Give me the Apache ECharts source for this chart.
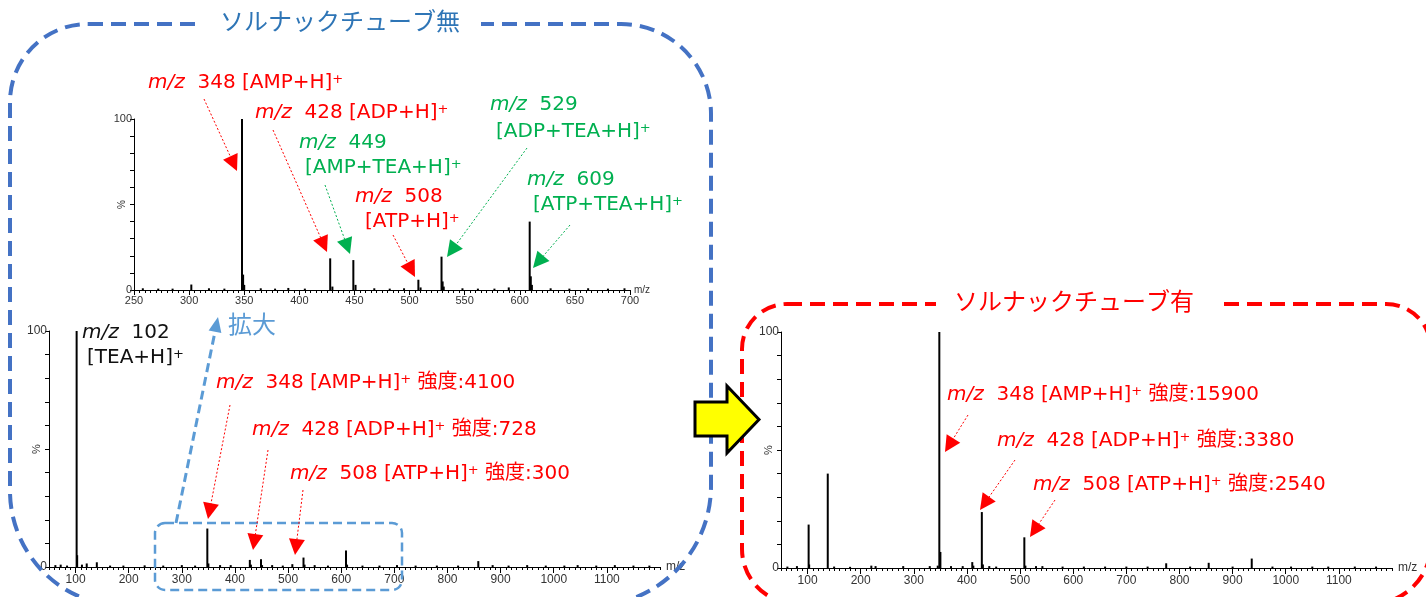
<!DOCTYPE html>
<html>
<head>
<meta charset="utf-8">
<script src="https://cdn.jsdelivr.net/npm/echarts@6/dist/echarts.min.js"></script>
<style>
html,body{margin:0;padding:0;background:#fff;}
#c{width:1426px;height:597px;}
</style>
</head>
<body>
<div id="c"></div>
<script>
// ---------- DATA ----------
// Inset (zoomed, no tube) : m/z and relative intensity (%)
const insetMz  = [258, 272, 285, 302, 318, 332, 348, 349, 350, 365, 378, 390, 405, 428, 430, 449, 451, 468, 482, 495, 508, 510, 529, 530, 531, 548, 562, 577, 590, 609, 610, 611, 628, 645, 662, 680, 695];
const insetPct = [1.0, 0.8, 0.8, 3.2, 1.0, 0.8, 100, 9.0, 3.0, 1.0, 0.8, 1.2, 0.8, 18.5, 2.0, 17.5, 3.0, 1.0, 0.8, 1.0, 6.0, 1.5, 19.5, 5.0, 2.0, 1.0, 0.8, 0.8, 1.5, 40, 8.0, 3.0, 1.0, 0.8, 1.0, 0.8, 1.0];
// Full spectrum without tube
const noTubeMz  = [62, 72, 84, 102, 103, 112, 121, 140, 165, 190, 230, 265, 300, 325, 348, 350, 372, 392, 428, 430, 449, 451, 470, 490, 508, 529, 531, 550, 575, 609, 611, 640, 672, 705, 740, 780, 820, 858, 885, 915, 950, 985, 1020, 1045, 1080, 1115, 1150, 1180];
const noTubePct = [0.8, 1.0, 0.6, 100, 5.0, 1.0, 1.5, 2.0, 0.6, 0.6, 0.7, 0.6, 0.8, 0.6, 16.3, 1.5, 0.8, 0.8, 3.0, 1.0, 3.3, 0.8, 0.8, 0.6, 1.2, 4.0, 1.0, 0.8, 0.6, 7.0, 1.0, 0.6, 0.6, 0.8, 0.6, 0.6, 0.6, 2.5, 0.8, 0.6, 0.8, 0.6, 0.6, 0.8, 0.6, 0.8, 0.6, 0.6];
// Full spectrum with tube
const tubeMz  = [62, 80, 102, 103, 138, 150, 180, 220, 228, 280, 330, 345, 348, 350, 370, 392, 410, 412, 428, 430, 442, 455, 508, 510, 530, 542, 580, 620, 660, 700, 740, 775, 820, 855, 900, 936, 975, 1010, 1050, 1080, 1130, 1170];
const tubePct = [0.6, 0.8, 18.4, 1.5, 40, 0.6, 0.5, 1.0, 0.8, 0.8, 0.8, 1.0, 100, 6.8, 0.8, 0.8, 2.5, 1.0, 23.7, 1.5, 0.8, 0.6, 13.0, 1.0, 0.8, 0.8, 0.6, 0.6, 0.6, 0.6, 0.6, 2.0, 0.6, 2.2, 0.6, 4.0, 0.6, 0.6, 0.6, 0.6, 0.6, 0.6];
// Tick labels
const xTicksMain  = [100, 200, 300, 400, 500, 600, 700, 800, 900, 1000, 1100];
const xTicksInset = [250, 300, 350, 400, 450, 500, 550, 600, 650, 700];
const yTickLabels = [0, 100];

// ---------- CHART ----------
const chart = echarts.init(document.getElementById('c'), null, {renderer: 'canvas'});
const AX_FONT = 'Liberation Sans';
const FF = "'DejaVu Sans', 'Noto Sans CJK JP', sans-serif";

function yAxis(grid, fs) {
  return {
    type: 'value', gridIndex: grid, min: 0, max: 100, interval: 10,
    axisLine: {show: true, lineStyle: {color: '#000', width: 1}},
    axisTick: {show: true, length: 4, lineStyle: {color: '#000'}},
    splitLine: {show: false},
    axisLabel: {color: '#333', fontFamily: AX_FONT, fontSize: fs, margin: 2,
      formatter: v => yTickLabels.indexOf(v) >= 0 ? String(v) : ''},
    name: '%', nameLocation: 'middle', nameRotate: 90, nameGap: 7, nameMoveOverlap: false,
    nameTextStyle: {color: '#333', fontFamily: AX_FONT, fontSize: fs - 1}
  };
}
function minorX(grid) {
  return {
    type: 'value', gridIndex: grid, min: 50, max: 1200, interval: 10, position: 'bottom',
    axisLine: {show: true, onZero: false, lineStyle: {color: '#000', width: 1}},
    axisTick: {show: true, length: 3, lineStyle: {color: '#000'}},
    axisLabel: {show: false}, splitLine: {show: false}
  };
}
function majorX(grid) {
  return {
    type: 'value', gridIndex: grid, min: 50, max: 1200, position: 'bottom',
    axisLine: {show: false, onZero: false},
    axisTick: {show: true, length: 6, customValues: xTicksMain, lineStyle: {color: '#000'}},
    axisLabel: {show: true, customValues: xTicksMain, color: '#333', fontFamily: AX_FONT, fontSize: 12, margin: 7,
      formatter: v => String(v)},
    splitLine: {show: false},
    name: 'm/z', nameLocation: 'end', nameGap: 6,
    nameTextStyle: {color: '#333', fontFamily: AX_FONT, fontSize: 12, verticalAlign: 'middle'}
  };
}
const toPairs = (a, b) => a.map((m, i) => [m, b[i]]);

const option = {
  backgroundColor: '#fff',
  animation: false,
  grid: [
    {left: 134, top: 119, width: 496, height: 171},
    {left: 49, top: 331, width: 611, height: 236},
    {left: 781, top: 332, width: 611, height: 236}
  ],
  xAxis: [
    {
      type: 'value', gridIndex: 0, min: 250, max: 700, interval: 50, position: 'bottom',
      axisLine: {show: true, onZero: false, lineStyle: {color: '#000'}},
      axisTick: {show: true, length: 5, lineStyle: {color: '#000'}},
      minorTick: {show: true, splitNumber: 10, length: 3, lineStyle: {color: '#000'}},
      axisLabel: {color: '#333', fontFamily: AX_FONT, fontSize: 11, margin: 5,
        formatter: v => xTicksInset.indexOf(v) >= 0 ? String(v) : ''},
      splitLine: {show: false},
      name: 'm/z', nameLocation: 'end', nameGap: 4,
      nameTextStyle: {color: '#333', fontFamily: AX_FONT, fontSize: 10}
    },
    minorX(1), majorX(1), minorX(2), majorX(2)
  ],
  yAxis: [yAxis(0, 11), yAxis(1, 12), yAxis(2, 12)],
  series: [
    {type: 'bar', xAxisIndex: 0, yAxisIndex: 0, barWidth: 2, itemStyle: {color: '#000'}, data: toPairs(insetMz, insetPct)},
    {type: 'bar', xAxisIndex: 2, yAxisIndex: 1, barWidth: 2, itemStyle: {color: '#000'}, data: toPairs(noTubeMz, noTubePct)},
    {type: 'bar', xAxisIndex: 4, yAxisIndex: 2, barWidth: 2, itemStyle: {color: '#000'}, data: toPairs(tubeMz, tubePct)}
  ]
};
chart.setOption(option);

// ---------- ANNOTATIONS (graphic) ----------
const RED = '#FF0000', GREEN = '#00B050', BLUE_T = '#2E75B6', BLUE_B = '#4472C4', LBLUE = '#5B9BD5';
const RICH = {
  i: {fontStyle: 'italic', fontSize: 20, fontFamily: FF},
  s: {fontSize: 13, verticalAlign: 'top', fontFamily: FF, lineHeight: 13}
};
function txt(x, y, text, color, size) {
  return {type: 'text', x: x, y: y, z: 100,
    style: {text: text, fill: color, fontFamily: FF, fontSize: size || 20, align: 'left', verticalAlign: 'middle', rich: RICH}};
}
function arrow(x1, y1, x2, y2, color, opt) {
  opt = opt || {};
  const L = opt.L || 16, W = opt.W || 16;
  const dx = x2 - x1, dy = y2 - y1, len = Math.sqrt(dx * dx + dy * dy);
  const ux = dx / len, uy = dy / len, nx = -uy, ny = ux;
  const bx = x2 - ux * L, by = y2 - uy * L;
  return [
    {type: 'line', z: 90, shape: {x1: x1, y1: y1, x2: bx + ux * 2, y2: by + uy * 2},
      style: {stroke: color, lineWidth: opt.lw || 1, lineDash: opt.dash || [2, 2]}},
    {type: 'polygon', z: 91, shape: {points: [[x2, y2], [bx + nx * W / 2, by + ny * W / 2], [bx - nx * W / 2, by - ny * W / 2]]},
      style: {fill: color}}
  ];
}

const g = [];
// dashed rounded frames
g.push({type: 'rect', z: 10, shape: {x: 10, y: 24, width: 701, height: 582, r: [78, 90, 120, 115]},
  style: {fill: null, stroke: BLUE_B, lineWidth: 4, lineDash: [15, 8]}});
g.push({type: 'rect', z: 10, shape: {x: 742, y: 304, width: 689, height: 300, r: [45, 45, 60, 55]},
  style: {fill: null, stroke: RED, lineWidth: 4, lineDash: [15, 8]}});
// title backgrounds
g.push({type: 'rect', z: 20, shape: {x: 201, y: 8, width: 280, height: 32}, style: {fill: '#fff'}});
g.push({type: 'rect', z: 20, shape: {x: 936, y: 288, width: 281, height: 32}, style: {fill: '#fff'}});
g.push({type: 'text', x: 340, y: 24, z: 30, style: {text: 'ソルナックチューブ無', fill: BLUE_T, fontFamily: FF, fontSize: 24, align: 'center', verticalAlign: 'middle'}});
g.push({type: 'text', x: 1074, y: 304, z: 30, style: {text: 'ソルナックチューブ有', fill: RED, fontFamily: FF, fontSize: 24, align: 'center', verticalAlign: 'middle'}});

// zoom box and expand arrow
g.push({type: 'rect', z: 40, shape: {x: 155, y: 523, width: 247, height: 67, r: 10},
  style: {fill: null, stroke: LBLUE, lineWidth: 2.5, lineDash: [9, 5]}});
arrow(176, 523, 218, 317, LBLUE, {L: 15, W: 13, lw: 3, dash: [9, 5]}).forEach(e => g.push(e));
g.push({type: 'text', x: 228, y: 327, z: 100, style: {text: '拡大', fill: LBLUE, fontFamily: FF, fontSize: 24, align: 'left', verticalAlign: 'middle'}});

// yellow block arrow
g.push({type: 'polygon', z: 50, shape: {points: [[695, 402], [727, 402], [727, 386], [759, 419.5], [727, 453], [727, 436], [695, 436]]},
  style: {fill: '#FFFF00', stroke: '#000', lineWidth: 3, lineJoin: 'miter'}});

// inset annotations
g.push(txt(148, 83, '{i|m/z}  348 [AMP+H]{s|+}', RED));
g.push(txt(255, 113, '{i|m/z}  428 [ADP+H]{s|+}', RED));
g.push(txt(299, 143, '{i|m/z}  449', GREEN));
g.push(txt(305, 168, '[AMP+TEA+H]{s|+}', GREEN));
g.push(txt(355, 197, '{i|m/z}  508', RED));
g.push(txt(365, 222, '[ATP+H]{s|+}', RED));
g.push(txt(490, 105, '{i|m/z}  529', GREEN));
g.push(txt(496, 132, '[ADP+TEA+H]{s|+}', GREEN));
g.push(txt(527, 180, '{i|m/z}  609', GREEN));
g.push(txt(533, 205, '[ATP+TEA+H]{s|+}', GREEN));
[
  [204, 99, 237, 171, RED], [273, 130, 327, 252, RED], [325, 185, 350, 254, GREEN],
  [393, 235, 415, 277, RED], [527, 148, 447, 257, GREEN], [570, 225, 533, 268, GREEN]
].forEach(a => arrow(a[0], a[1], a[2], a[3], a[4]).forEach(e => g.push(e)));

// main (no tube) annotations
g.push(txt(82, 333, '{i|m/z}  102', '#111'));
g.push(txt(87, 358, '[TEA+H]{s|+}', '#111'));
g.push(txt(216, 383, '{i|m/z}  348 [AMP+H]{s|+} 強度:4100', RED));
g.push(txt(252, 430, '{i|m/z}  428 [ADP+H]{s|+} 強度:728', RED));
g.push(txt(290, 474, '{i|m/z}  508 [ATP+H]{s|+} 強度:300', RED));
[
  [230, 405, 208, 519, RED], [268, 450, 253, 550, RED], [303, 490, 295, 555, RED]
].forEach(a => arrow(a[0], a[1], a[2], a[3], a[4]).forEach(e => g.push(e)));

// tube annotations
g.push(txt(947, 395, '{i|m/z}  348 [AMP+H]{s|+} 強度:15900', RED));
g.push(txt(997, 441, '{i|m/z}  428 [ADP+H]{s|+} 強度:3380', RED));
g.push(txt(1033, 485, '{i|m/z}  508 [ATP+H]{s|+} 強度:2540', RED));
[
  [968, 415, 945, 452, RED], [1015, 460, 980, 510, RED], [1055, 500, 1030, 537, RED]
].forEach(a => arrow(a[0], a[1], a[2], a[3], a[4]).forEach(e => g.push(e)));

chart.setOption({graphic: {elements: g}});
</script>
</body>
</html>
